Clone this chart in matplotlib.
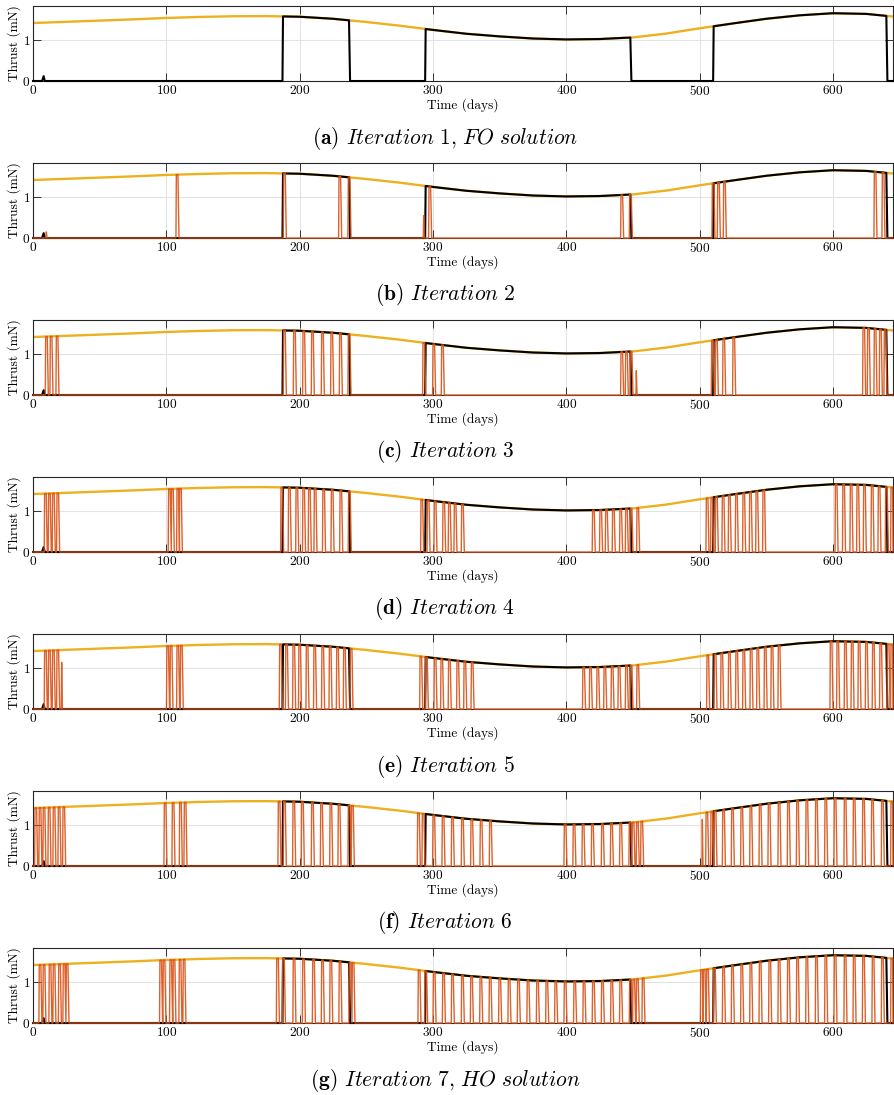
import numpy as np
import matplotlib
matplotlib.use("Agg")
import matplotlib.pyplot as plt

plt.rcParams["font.family"] = "serif"
plt.rcParams["font.serif"] = ["cmr10"]
plt.rcParams["mathtext.fontset"] = "cm"
plt.rcParams["axes.unicode_minus"] = False
plt.rcParams["axes.formatter.use_mathtext"] = True

# max available thrust (mN) over the transfer
tmax_days = [0, 25, 50, 75, 100, 125, 150, 175, 200, 225, 250, 275, 300, 325, 350,
             375, 400, 425, 450, 475, 500, 525, 550, 575, 600, 625, 645]
tmax_mn = [1.43, 1.46, 1.49, 1.52, 1.555, 1.58, 1.597, 1.60, 1.585, 1.535, 1.455, 1.365,
           1.26, 1.165, 1.10, 1.048, 1.025, 1.035, 1.075, 1.17, 1.30, 1.42, 1.535,
           1.62, 1.672, 1.655, 1.59]

# FO solution: thrust arcs (start, end) in days + small spike near departure
fo_arcs = [(187.5, 237.0), (294.5, 448.0), (510.5, 640.0)]
fo_spike = (8.0, 0.12)

# HO iterations: start days of the short thrust pulses
ho_it2 = [107.5, 188, 229.5, 236.5, 297, 441, 447.5, 509.5, 513.5, 518, 631, 637]
ho_it3 = [9.5, 13, 17.5, 188, 195.5, 202.5, 209, 216.5, 223.5, 230, 236.5, 292.5, 300,
          306.5, 441, 444.5, 448, 509, 512, 517.5, 525, 622.5, 626, 631, 635, 638.5]
ho_it4 = [8.7, 11.7, 14.7, 18, 101.7, 104, 108, 110, 186, 191.7, 197.3, 202.4, 206.7,
          211, 217.4, 223.8, 230.3, 236.7, 291, 295.8, 301, 307.5, 311.7, 316, 321.5,
          419.7, 425.2, 429.5, 434.7, 440.2, 444.5, 448, 453, 505, 508.5, 512, 517,
          521.7, 527, 532.5, 537.5, 542.3, 547.5, 601.8, 607.4, 613, 618, 623, 628.8,
          634, 639.5, 643.5]
ho_it5 = [8.7, 11.7, 14.7, 18, 100.4, 103, 108, 110.7, 185, 189.6, 195, 199.4, 205,
          210.7, 216.7, 222.3, 227.8, 233, 238, 290.3, 294.5, 301, 306, 311.7, 318,
          323.3, 328.8, 412.4, 417.5, 423, 428.3, 433.8, 439, 444.5, 448, 453, 505.5,
          511, 516, 521.7, 527.2, 532.5, 538, 543, 548.6, 553.7, 559, 598, 603, 608.7,
          613.8, 619, 624.5, 629.7, 635.2, 640.8, 643.5]
ho_it6 = [1.5, 4.7, 7.7, 11.5, 15.2, 19, 22.5, 98.5, 104.5, 110, 113.5, 184, 188, 195,
          201.5, 209, 215.8, 222.8, 229, 236.5, 239, 288.5, 292, 300, 307, 314, 321.5,
          328.5, 335.5, 342.5, 398.5, 405.2, 412, 419, 426.5, 433.3, 440.2, 447.2, 449.5,
          452.7, 456, 504.8, 508.5, 511, 517.3, 524, 531, 537.8, 544.8, 551.5, 559, 566,
          572.8, 579.8, 587, 594, 601, 608.5, 615.3, 622.3, 629, 636.5, 643.5]
ho_it7 = [4.7, 7.7, 12.2, 15.2, 19.3, 22.7, 25, 95.2, 97.7, 102.7, 105.2, 109.7, 112.7,
          182.8, 187.3, 195.2, 202.3, 209.8, 216.5, 222.8, 229.7, 237.2, 239.5, 289, 294,
          300.3, 307.3, 314, 321.5, 328.3, 335.3, 342.3, 349.5, 356.5, 363.5, 370.7,
          377.8, 384.8, 391.5, 398.5, 405.7, 412.7, 419.7, 426.5, 433.5, 440.2, 447.5,
          450, 452.7, 457, 500.8, 502.8, 505.3, 510.5, 517.3, 524, 531, 537.8, 544.8,
          552, 559, 566, 572.8, 579.8, 587, 594, 601, 608.5, 615.3, 622.3, 629.5, 636.5,
          643.5]

# partial-height spikes (day, thrust)
ho_partial = [[], [(10, 0.15), (293, 0.55)], [(452.5, 0.6)], [], [(21.5, 1.15)],
              [(502, 1.15)], []]

captions = ["(a)", "(b)", "(c)", "(d)", "(e)", "(f)", "(g)"]
subtitles = ["Iteration 1, FO solution", "Iteration 2", "Iteration 3", "Iteration 4",
             "Iteration 5", "Iteration 6", "Iteration 7, HO solution"]
ho_runs = [None, ho_it2, ho_it3, ho_it4, ho_it5, ho_it6, ho_it7]

T_END = 645
YMAX = 1.85
C_TMAX = "#EDB120"
C_HO = "#D95319"


def tmax(t):
    return np.interp(t, tmax_days, tmax_mn)


def fo_profile():
    xs, ys = [0.0, fo_spike[0] - 1.2, fo_spike[0], fo_spike[0] + 0.8], [0, 0, fo_spike[1], 0]
    for a, b in fo_arcs:
        inner = [d for d in tmax_days if a < d < b]
        xs += [a - 0.4, a] + inner + [b, b + 0.8]
        ys += [0, tmax(a)] + [tmax(d) for d in inner] + [tmax(b), 0]
    xs.append(T_END)
    ys.append(0)
    return np.array(xs), np.array(ys)


def ho_profile(starts, partial, width=1.2):
    events = [(s, "p") for s in starts] + [(d, h) for d, h in partial]
    events.sort(key=lambda e: e[0])
    xs, ys = [0.0], [0.0]
    for d, kind in events:
        if kind == "p":
            xs += [d - 0.3, d, d + width, d + width + 0.8]
            ys += [0, tmax(d), tmax(d + width), 0]
        else:
            xs += [d - 0.3, d, d + 0.5]
            ys += [0, kind, 0]
    xs.append(T_END)
    ys.append(0)
    return np.clip(np.array(xs), 0, T_END), np.array(ys)


W, H = 895, 1095
fig = plt.figure(figsize=(W / 100, H / 100), dpi=100)

fx, fy = fo_profile()
for i in range(7):
    top = 6 + 157 * i
    ax = fig.add_axes([33 / W, 1 - (top + 75) / H, 860 / W, 75 / H])
    ax.plot(tmax_days, tmax_mn, color=C_TMAX, lw=1.7, zorder=2)
    ax.plot(fx, fy, color="black", lw=1.5, zorder=3, clip_on=False)
    if ho_runs[i] is not None:
        hx, hy = ho_profile(ho_runs[i], ho_partial[i])
        ax.plot(hx, hy, color=C_HO, lw=1.0, alpha=0.92, zorder=4, clip_on=False)

    ax.set_xlim(0, T_END)
    ax.set_ylim(0, YMAX)
    ax.set_xticks([0, 100, 200, 300, 400, 500, 600])
    ax.set_yticks([0, 1])
    ax.grid(True, color="#e3e3e3", lw=0.8)
    ax.set_axisbelow(True)
    ax.tick_params(direction="in", length=6, width=0.7, top=True, right=True,
                   labelsize=9.6, pad=2, color="#333333")
    for s in ax.spines.values():
        s.set_color("#262626")
        s.set_linewidth(0.8)
    ax.set_xlabel("Time (days)", fontsize=9.6, labelpad=0)
    ax.set_ylabel("Thrust (mN)", fontsize=9.6, labelpad=1)

    sub = subtitles[i].replace(",", "{,}").replace(" ", r"\ ")
    label = r"$\mathbf{" + captions[i] + r"}$ $\mathit{" + sub + r"}$"
    fig.text(445 / W, 1 - (138 + 157 * i) / H, label, ha="center", va="center", fontsize=15.5)

fig.savefig("out.png", dpi=100)
